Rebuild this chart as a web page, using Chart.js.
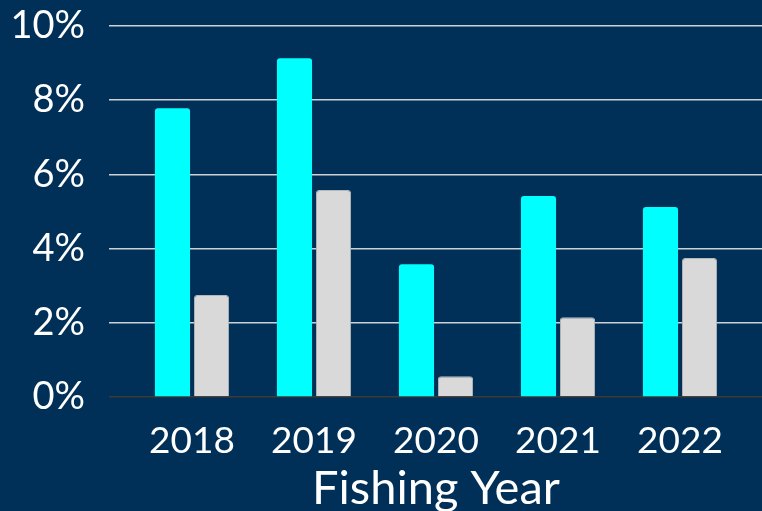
<!DOCTYPE html>
<html>
<head>
<meta charset="utf-8">
<script src="https://cdn.jsdelivr.net/npm/chart.js@4/dist/chart.umd.min.js"></script>
<style>
    html, body { margin: 0; padding: 0; background: #003057; }
    .chartbox { width: 762px; height: 511px; }
</style>
</head>
<body>
<div class="chartbox"><canvas id="chart"></canvas></div>
<script>
let years = ['2018', '2019', '2020', '2021', '2022']
let series1 = [7.78, 9.13, 3.58, 5.42, 5.12]
let series2 = [2.75, 5.58, 0.56, 2.15, 3.75]
let yTicks = [0, 2, 4, 6, 8, 10]

const font = 'Lato'

// 0% line is dark, the rest light gray
let gridColor = ctx => ctx.tick && ctx.tick.value == 0 ? '#3d3a36' : '#cdd1d5'

// fixed axis sizes, and no extra room above/below for the tick labels
let fitY = w => s => {
    s.width = w
    s.paddingTop = 0
    s.paddingBottom = 0
}

let chart = new Chart(
    document.querySelector('#chart'),
    {
        type: 'bar',
        data: {
            labels: years,
            datasets: [{
                label: 'Series 1',
                backgroundColor: '#00ffff',
                borderRadius: { topLeft: 3, topRight: 3 },
                borderSkipped: 'bottom',
                data: series1,
            }, {
                label: 'Series 2',
                backgroundColor: '#d9d9d9',
                borderColor: '#b5b8bb',
                borderWidth: { top: 1, left: 1, right: 1, bottom: 0 },
                borderRadius: { topLeft: 3, topRight: 3 },
                borderSkipped: 'bottom',
                data: series2,
            }]
        },
        options: {
            responsive: true,
            maintainAspectRatio: false,
            animation: false,
            categoryPercentage: 0.64,
            barPercentage: 0.9,
            layout: { padding: { top: 26, right: 0, left: 0, bottom: 0 } },
            plugins: {
                legend: { display: false },
                tooltip: { enabled: false }
            },
            scales: {
                x: {
                    grid: { display: false, drawTicks: false },
                    border: { display: false },
                    ticks: {
                        color: '#ffffff',
                        padding: 22,
                        font: { family: font, size: 37 }
                    },
                    title: {
                        display: true,
                        text: 'Fishing Year',
                        color: '#ffffff',
                        padding: { top: 0, bottom: -6 },
                        font: { family: font, size: 47 }
                    },
                    afterFit: s => { s.height = 114 }
                },
                y: {
                    min: 0,
                    max: 10,
                    afterBuildTicks: s => { s.ticks = yTicks.map(v => ({ value: v })) },
                    grid: {
                        color: gridColor,
                        lineWidth: 1.5,
                        drawTicks: true,
                        tickLength: 22,
                        tickColor: gridColor
                    },
                    border: { display: false },
                    ticks: {
                        color: '#ffffff',
                        padding: 24,
                        font: { family: font, size: 38 },
                        callback: v => v + '%'
                    },
                    afterFit: fitY(131)
                },
                // only here to carry the gridlines out past the last bar
                y2: {
                    position: 'right',
                    min: 0,
                    max: 10,
                    afterBuildTicks: s => { s.ticks = yTicks.map(v => ({ value: v })) },
                    grid: {
                        drawOnChartArea: false,
                        lineWidth: 1.5,
                        tickLength: 21,
                        tickColor: gridColor
                    },
                    border: { display: false },
                    ticks: { display: false },
                    afterFit: fitY(21)
                }
            }
        }
    }
)
</script>
</body>
</html>
